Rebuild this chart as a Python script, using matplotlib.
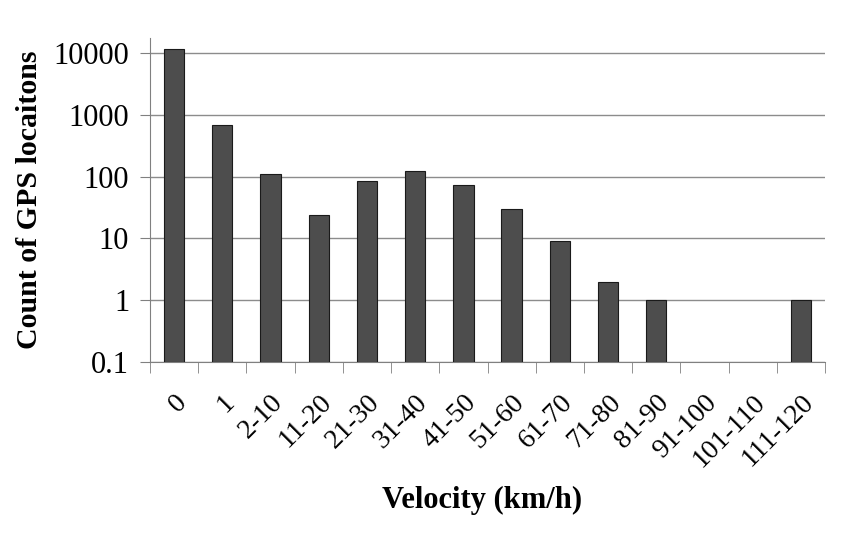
import numpy as np
import matplotlib
matplotlib.use("Agg")
import matplotlib.pyplot as plt
from matplotlib.ticker import FixedLocator, NullLocator, FixedFormatter

categories = ["0", "1", "2-10", "11-20", "21-30", "31-40", "41-50", "51-60",
              "61-70", "71-80", "81-90", "91-100", "101-110", "111-120"]
counts = [11500, 690, 108, 23.5, 85, 122, 74, 30, 9.2, 2.0, 1, 0, 0, 1]
ytick_vals = [0.1, 1, 10, 100, 1000, 10000]
ytick_labels = ["0.1", "1", "10", "100", "1000", "10000"]

plt.rcParams['font.family'] = ['Liberation Serif', 'DejaVu Serif']

fig = plt.figure(figsize=(8.42, 5.42), dpi=100)
ax = fig.add_axes([150/842, 1 - 362/542, 675/842, (362 - 38)/542])

x = np.arange(len(categories))
vals = np.array(counts, dtype=float)
mask = vals > 0
base = 0.1
ax.bar(x[mask], vals[mask] - base, width=0.42, bottom=base, color="#4d4d4d",
       edgecolor="#1a1a1a", linewidth=0.8, zorder=3)

ax.set_yscale("log")
ax.set_ylim(0.1, 10 ** 4.24)
ax.set_xlim(-0.5, len(categories) - 0.5)

ax.yaxis.set_major_locator(FixedLocator(ytick_vals))
ax.yaxis.set_major_formatter(FixedFormatter(ytick_labels))
ax.yaxis.set_minor_locator(NullLocator())
ax.grid(axis="y", color="#8c8c8c", linewidth=1.0, zorder=0)

ax.set_xticks(x)
ax.set_xticklabels(categories, rotation=45, ha="right", rotation_mode="anchor",
                   fontsize=20)
ax.set_xticks(np.arange(len(categories) + 1) - 0.5, minor=True)
ax.tick_params(axis="x", which="major", length=0, pad=20)
ax.tick_params(axis="x", which="minor", length=8, color="#808080", direction="out")
ax.tick_params(axis="y", which="major", labelsize=22, length=7, color="#808080",
               direction="out", pad=8)

for s in ["top", "right"]:
    ax.spines[s].set_visible(False)
ax.spines["left"].set_color("#808080")
ax.spines["bottom"].set_color("#808080")

fig.text(482/842, 1 - 500/542, "Velocity (km/h)", ha="center", va="center",
         fontsize=22, fontweight="bold")
fig.text(30/842, 1 - 200/542, "Count of GPS locaitons", ha="center", va="center",
         rotation=90, fontsize=21.5, fontweight="bold")

fig.savefig("out.png", dpi=100)
